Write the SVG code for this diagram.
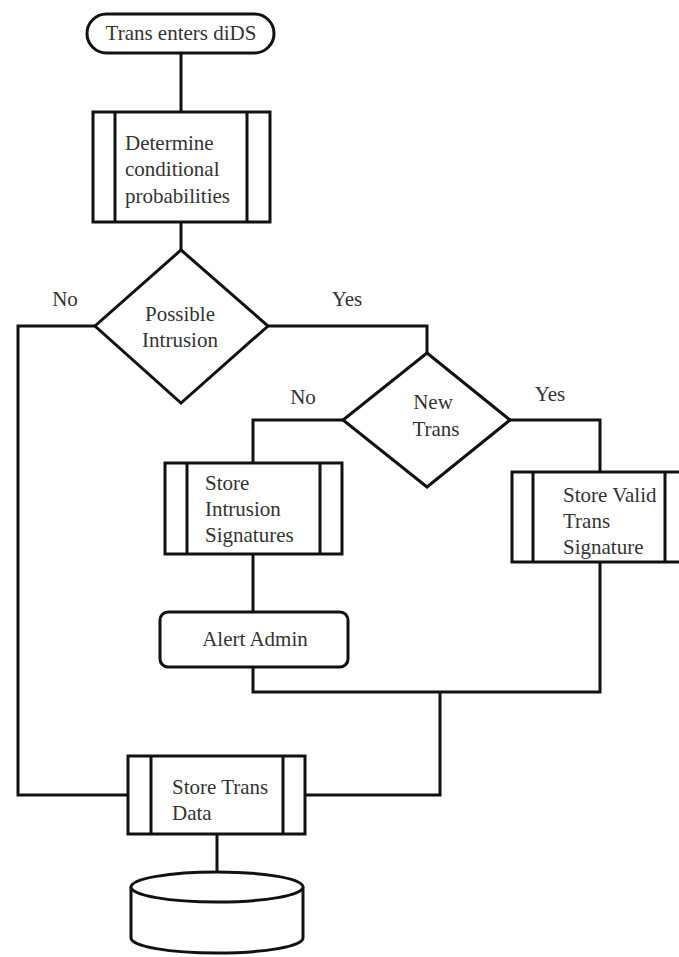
<svg xmlns="http://www.w3.org/2000/svg" width="679" height="957" viewBox="0 0 679 957">
<style>
.s{fill:#fff;stroke:#111;stroke-width:3;stroke-linejoin:miter}
.c{fill:none;stroke:#111;stroke-width:3;stroke-linejoin:miter}
text{font-family:"Liberation Serif","Times New Roman",serif;font-size:21px;fill:#333}
.m{text-anchor:middle}
</style>
<rect width="679" height="957" fill="#fff"/>
<g id="connectors">
<path class="c" d="M181 53V112"/>
<path class="c" d="M181 222V250"/>
<path class="c" d="M95 326H18V795H128"/>
<path class="c" d="M268 326H427V353"/>
<path class="c" d="M343 420H253V463"/>
<path class="c" d="M510 420H600V472"/>
<path class="c" d="M253 554V612"/>
<path class="c" d="M253 667V692H600V562"/>
<path class="c" d="M440 692V795H305"/>
<path class="c" d="M217 834V872"/>
</g>
<g id="start">
<rect class="s" x="87" y="14" width="187" height="39" rx="19.5"/>
<text class="m" x="181" y="40">Trans enters diDS</text>
</g>
<g id="determine">
<rect class="s" x="93" y="112" width="177" height="110"/>
<path class="c" d="M115 112V222M247 112V222"/>
<text x="125" y="150">Determine</text>
<text x="125" y="176">conditional</text>
<text x="125" y="203">probabilities</text>
</g>
<g id="possible-intrusion">
<path class="s" d="M181 250L268 326L181 403L95 326Z"/>
<text class="m" x="180" y="321">Possible</text>
<text class="m" x="180" y="347">Intrusion</text>
</g>
<text class="m" x="65" y="306">No</text>
<text class="m" x="347" y="306">Yes</text>
<g id="new-trans">
<path class="s" d="M427 353L510 420L427 487L343 420Z"/>
<text class="m" x="433" y="409">New</text>
<text class="m" x="436" y="436">Trans</text>
</g>
<text class="m" x="303" y="404">No</text>
<text class="m" x="550" y="401">Yes</text>
<g id="store-intrusion">
<rect class="s" x="165" y="463" width="177" height="91"/>
<path class="c" d="M187 463V554M320 463V554"/>
<text x="205" y="490">Store</text>
<text x="205" y="516">Intrusion</text>
<text x="205" y="542">Signatures</text>
</g>
<g id="store-valid">
<rect class="s" x="512" y="472" width="170" height="90"/>
<path class="c" d="M533 472V562M665 472V562"/>
<text x="563" y="502">Store Valid</text>
<text x="563" y="528">Trans</text>
<text x="563" y="554">Signature</text>
</g>
<g id="alert-admin">
<rect class="s" x="160" y="612" width="188" height="55" rx="8"/>
<text class="m" x="255" y="646">Alert Admin</text>
</g>
<g id="store-trans">
<rect class="s" x="128" y="756" width="177" height="78"/>
<path class="c" d="M151 756V834M283 756V834"/>
<text x="172" y="794">Store Trans</text>
<text x="172" y="820">Data</text>
</g>
<g id="database">
<path class="s" d="M131 887V938A86 15 0 0 0 303 938V887"/>
<ellipse class="s" cx="217" cy="887" rx="86" ry="15"/>
</g>
</svg>
